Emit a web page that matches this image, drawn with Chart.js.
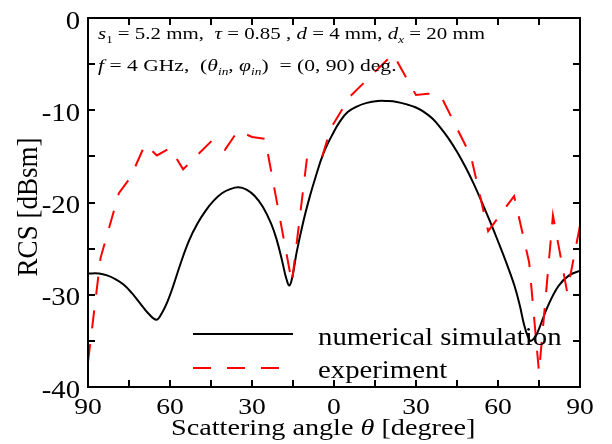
<!DOCTYPE html>
<html>
<head>
<meta charset="utf-8">
<script src="https://cdn.jsdelivr.net/npm/chart.js@4.4.1/dist/chart.umd.min.js"></script>
<style>
  html, body { margin: 0; padding: 0; background: #fff; }
  #wrap { width: 612px; height: 444px; }
</style>
</head>
<body>
<div id="wrap"><canvas id="rcsChart" width="612" height="444"></canvas></div>
<script>
// numerical simulation (angle in degree, RCS in dBsm)
const simAngle = [-90, -86, -83, -80, -77, -74, -71, -68, -65, -63, -61, -59, -56, -53, -50, -47, -44, -41, -38, -35,
    -32, -29, -26, -23, -21, -19, -17.5, -16.3, -15.2, -13.6, -11, -8.8, -6.9, -3.9, 0, 2.2, 5, 8.3, 12, 16,
    19.3, 23, 27, 30, 33, 36, 39, 42, 45, 48, 51, 54, 57, 60, 63, 66, 68, 69.5, 71, 72, 73.5, 75, 78, 82, 86, 90];
const simRcs = [-27.7, -27.7, -27.9, -28.3, -28.9, -29.8, -30.9, -32.0, -32.7, -32.0, -30.8, -29.2, -26.5, -24.1, -22.3, -20.9, -19.8, -19.0, -18.55, -18.35,
    -18.6, -19.3, -20.5, -22.3, -24.0, -26.3, -28.2, -29.0, -28.0, -25.3, -21.8, -19.3, -17.4, -14.7, -12.3, -11.2, -10.2, -9.6, -9.2, -9.0,
    -9.0, -9.1, -9.4, -9.7, -10.2, -10.9, -11.9, -13.1, -14.5, -16.1, -17.9, -19.9, -22.0, -24.2, -26.5, -29.0, -31.2, -33.2, -34.6, -35.0, -34.6, -33.7, -31.4, -29.1, -27.9, -27.4];

// experiment
const expAngle = [-90, -85.4, -78.7, -74.5, -69.1, -64.8, -60, -55.2, -44.7, -39.9, -35.1, -30, -25.2, -15.4, -9.9, -4.4, -1.1, 5.9, 21.6, 30,
    34.4, 39.2, 50.1, 56.4, 65.9, 71.4, 75, 80.1, 85.3, 90];
const expRcs = [-37.3, -26.0, -19.0, -17.3, -13.7, -14.9, -14.1, -16.4, -13.3, -14.3, -12.2, -12.9, -13.1, -28.7, -15.2, -15.1, -11.9, -8.5, -3.9, -8.35,
    -8.2, -8.5, -15.0, -23.1, -19.3, -26.5, -38.4, -21.4, -29.7, -22.5];

const xMajor = [-90, -60, -30, 0, 30, 60, 90];
const yMajor = [-40, -30, -20, -10, 0];
const seriesNames = ["numerical simulation", "experiment"];

const serif = '"Liberation Serif", "Times New Roman", serif';
const SX = 1.15; // the original figure is a little wider than tall

function toPoints(xs, ys) {
    return xs.map((x, i) => ({ x: x, y: ys[i] }));
}

// mixed italic / subscript text runs, stretched horizontally by sx
function drawRuns(ctx, x, y, runs, size, sx) {
    ctx.save();
    ctx.translate(x, y);
    ctx.scale(sx, 1);
    let cx = 0;
    runs.forEach((r) => {
        const fs = r.sub ? size * 0.62 : size;
        ctx.font = (r.it ? "italic " : "") + fs + "px " + serif;
        ctx.fillText(r.t, cx, r.sub ? size * 0.25 : 0);
        cx += ctx.measureText(r.t).width;
    });
    ctx.restore();
}

function drawText(ctx, text, x, y, size, sx, align) {
    ctx.save();
    ctx.font = size + "px " + serif;
    const w = ctx.measureText(text).width * sx;
    let left = x;
    if (align === "right") left = x - w;
    if (align === "center") left = x - w / 2;
    ctx.translate(left, y);
    ctx.scale(sx, 1);
    ctx.textAlign = "left";
    ctx.fillText(text, 0, 0);
    ctx.restore();
}

const framePlugin = {
    id: "framePlugin",
    afterDatasetsDraw(chart) {
        const ctx = chart.ctx;
        const a = chart.chartArea;
        const xs = chart.scales.x;
        const ys = chart.scales.y;
        ctx.save();
        ctx.strokeStyle = "#000";
        ctx.fillStyle = "#000";
        ctx.lineWidth = 2;
        ctx.strokeRect(a.left, a.top, a.right - a.left, a.bottom - a.top);

        // inward ticks on all four sides
        ctx.beginPath();
        for (let v = -90; v <= 90; v += 15) {
            const px = Math.round(xs.getPixelForValue(v));
            ctx.moveTo(px, a.bottom);
            ctx.lineTo(px, a.bottom - 7);
            ctx.moveTo(px, a.top);
            ctx.lineTo(px, a.top + 7);
        }
        for (let v = -40; v <= 0; v += 5) {
            const py = Math.round(ys.getPixelForValue(v));
            ctx.moveTo(a.left, py);
            ctx.lineTo(a.left + 7, py);
            ctx.moveTo(a.right, py);
            ctx.lineTo(a.right - 7, py);
        }
        ctx.stroke();

        ctx.textBaseline = "alphabetic";
        ctx.textAlign = "left";

        // tick labels
        xMajor.forEach((v) => {
            drawText(ctx, String(Math.abs(v)), xs.getPixelForValue(v), 414, 24, SX, "center");
        });
        yMajor.forEach((v) => {
            drawText(ctx, String(v), 80, ys.getPixelForValue(v) + 10.5, 25, SX, "right");
        });

        // parameters
        drawRuns(ctx, 98, 39, [
            { t: "s", it: 1 }, { t: "1", sub: 1 }, { t: " = 5.2 mm,  " },
            { t: "τ", it: 1 }, { t: " = 0.85 , " },
            { t: "d", it: 1 }, { t: " = 4 mm, " },
            { t: "d", it: 1 }, { t: "x", it: 1, sub: 1 }, { t: " = 20 mm" }
        ], 17, 1.23);
        drawRuns(ctx, 98, 71, [
            { t: "f", it: 1 }, { t: " = 4 GHz,  (" },
            { t: "θ", it: 1 }, { t: "in", it: 1, sub: 1 }, { t: ", " },
            { t: "φ", it: 1 }, { t: "in", it: 1, sub: 1 }, { t: ")  = (0, 90) deg." }
        ], 17, 1.27);

        // legend
        ctx.lineWidth = 2;
        ctx.beginPath();
        ctx.moveTo(193, 334);
        ctx.lineTo(293, 334);
        ctx.stroke();
        ctx.strokeStyle = "#ff0000";
        ctx.setLineDash([18, 16]);
        ctx.beginPath();
        ctx.moveTo(193, 368);
        ctx.lineTo(293, 368);
        ctx.stroke();
        ctx.setLineDash([]);
        drawText(ctx, seriesNames[0], 318, 345, 25, SX, "left");
        drawText(ctx, seriesNames[1], 318, 378, 25, SX, "left");

        // axis titles
        drawRuns(ctx, 171, 435, [
            { t: "Scattering angle " }, { t: "θ", it: 1 }, { t: " [degree]" }
        ], 24, 1.175);
        ctx.save();
        ctx.translate(37, 207);
        ctx.rotate(-Math.PI / 2);
        ctx.scale(1, 1.1);
        ctx.textAlign = "center";
        ctx.font = "27px " + serif;
        ctx.fillText("RCS [dBsm]", 0, 0);
        ctx.restore();
        ctx.restore();
    }
};

const rcsConfig = {
    type: "line",
    data: {
        datasets: [
            {
                label: seriesNames[1],
                data: toPoints(expAngle, expRcs),
                borderColor: "#ff0000",
                borderWidth: 2,
                borderDash: [18, 16],
                pointRadius: 0,
                tension: 0,
                fill: false,
            },
            {
                label: seriesNames[0],
                data: toPoints(simAngle, simRcs),
                borderColor: "#000000",
                borderWidth: 2,
                pointRadius: 0,
                tension: 0.4,
                fill: false,
            },
        ],
    },
    options: {
        responsive: false,
        animation: false,
        layout: { padding: { top: 18, right: 32, left: 0, bottom: 0 } },
        plugins: {
            legend: { display: false },
            tooltip: { enabled: false },
        },
        scales: {
            x: {
                type: "linear",
                min: -90,
                max: 90,
                grid: { display: false, drawTicks: false },
                border: { display: false },
                ticks: { display: false, stepSize: 30 },
                afterFit: (scale) => { scale.height = 57; },
            },
            y: {
                min: -40,
                max: 0,
                grid: { display: false, drawTicks: false },
                border: { display: false },
                ticks: { display: false, stepSize: 10 },
                afterFit: (scale) => { scale.width = 88; },
            },
        },
    },
    plugins: [framePlugin],
};

window.rcsChart = new Chart(document.getElementById("rcsChart"), rcsConfig);
</script>
</body>
</html>
